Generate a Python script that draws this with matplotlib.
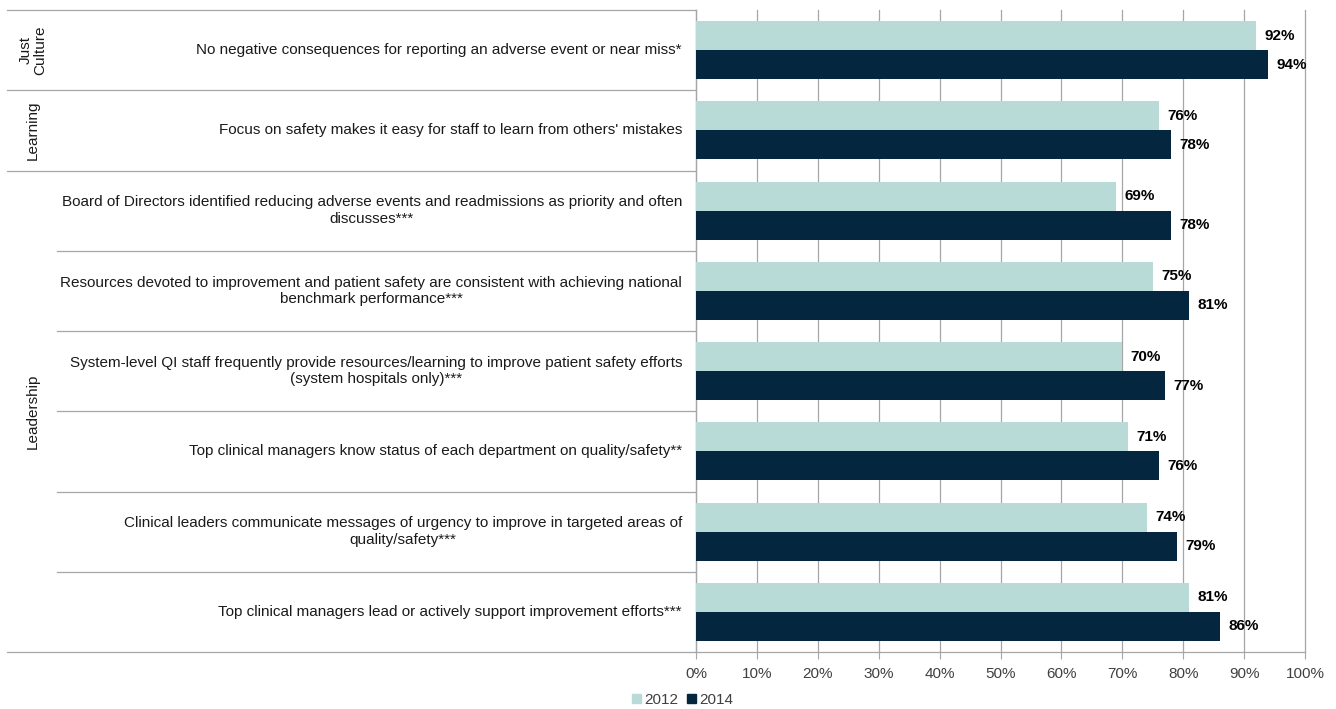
import matplotlib
matplotlib.use("Agg")
import matplotlib.pyplot as plt
import matplotlib.transforms as mtransforms
from matplotlib.patches import Patch

plt.rcParams['font.family'] = ['Liberation Sans', 'DejaVu Sans']

# data
categories = [
    "No negative consequences for reporting an adverse event or near miss*",
    "Focus on safety makes it easy for staff to learn from others' mistakes",
    "Board of Directors identified reducing adverse events and readmissions as priority and often\ndiscusses***",
    "Resources devoted to improvement and patient safety are consistent with achieving national\nbenchmark performance***",
    "System-level QI staff frequently provide resources/learning to improve patient safety efforts\n(system hospitals only)***",
    "Top clinical managers know status of each department on quality/safety**",
    "Clinical leaders communicate messages of urgency to improve in targeted areas of\nquality/safety***",
    "Top clinical managers lead or actively support improvement efforts***",
]
vals_2012 = [92, 76, 69, 75, 70, 71, 74, 81]
vals_2014 = [94, 78, 78, 81, 77, 76, 79, 86]
groups = ["Just\nCulture", "Learning", "Leadership"]
group_start = [0, 1, 2]
group_end = [0, 1, 7]
xticks = list(range(0, 101, 10))
xtick_labels = [f"{t}%" for t in xticks]

c2012 = "#b8dbd8"
c2014 = "#04273f"
grid_c = "#a6a6a6"
text_c = "#1a1a1a"

W, H = 1336, 709
fig = plt.figure(figsize=(W / 100, H / 100), dpi=100)
ax = fig.add_axes([696 / W, 1 - 652 / H, (1305 - 696) / W, (652 - 10) / H])

n = len(categories)
ys = list(range(n))
bh = 0.36
ax.barh([y - 0.18 for y in ys], vals_2012, height=bh, color=c2012, zorder=3)
ax.barh([y + 0.18 for y in ys], vals_2014, height=bh, color=c2014, zorder=3)

for y, v in zip(ys, vals_2012):
    ax.annotate(f"{v}%", (v, y - 0.18), xytext=(6, 0), textcoords="offset points",
                va="center", ha="left", fontsize=11, fontweight="bold", color="black")
for y, v in zip(ys, vals_2014):
    ax.annotate(f"{v}%", (v, y + 0.18), xytext=(6, 0), textcoords="offset points",
                va="center", ha="left", fontsize=11, fontweight="bold", color="black")

ax.set_xlim(0, 100)
ax.set_ylim(n - 0.5, -0.5)
ax.set_xticks(xticks)
ax.set_xticklabels(xtick_labels, fontsize=11, color="#404040")
ax.set_yticks([])
ax.tick_params(axis="x", length=5, color=grid_c, pad=6)
ax.grid(axis="x", color=grid_c, linewidth=0.9, zorder=0)
for gl in ax.get_xgridlines():
    gl.set_clip_on(False)
for s in ["top", "right"]:
    ax.spines[s].set_visible(False)
for s in ["left", "bottom"]:
    ax.spines[s].set_color(grid_c)
    ax.spines[s].set_linewidth(0.9)

trans = mtransforms.blended_transform_factory(ax.transAxes, ax.transData)
px = 1.0 / (1305 - 696)  # one pixel in axes fraction (x)

# category labels
for y, lab in zip(ys, categories):
    ax.text(-14 * px, y, lab, transform=trans, ha="right", va="center",
            multialignment="center", fontsize=11, color=text_c, linespacing=1.25)

# separator lines on the left
group_bounds = set([s - 0.5 for s in group_start] + [group_end[-1] + 0.5])
for k in range(n + 1):
    yb = k - 0.5
    x0 = (7 - 696) * px if yb in group_bounds else (57 - 696) * px
    ax.plot([x0, 0], [yb, yb], transform=trans, color=grid_c, linewidth=0.9, clip_on=False)

# group labels
for g, s, e in zip(groups, group_start, group_end):
    ax.text((33 - 696) * px, (s + e) / 2, g, transform=trans, rotation=90,
            ha="center", va="center", multialignment="center", fontsize=11, color=text_c,
            linespacing=1.0)

handles = [Patch(color=c2012, label="2012"), Patch(color=c2014, label="2014")]
fig.legend(handles=handles, loc="center left", bbox_to_anchor=(618 / W, 1 - 700 / H),
           ncol=2, frameon=False, fontsize=11, handlelength=0.6, handleheight=0.6,
           handletextpad=0.2, columnspacing=0.6, labelcolor="#404040")

fig.savefig("out.png", dpi=100)
